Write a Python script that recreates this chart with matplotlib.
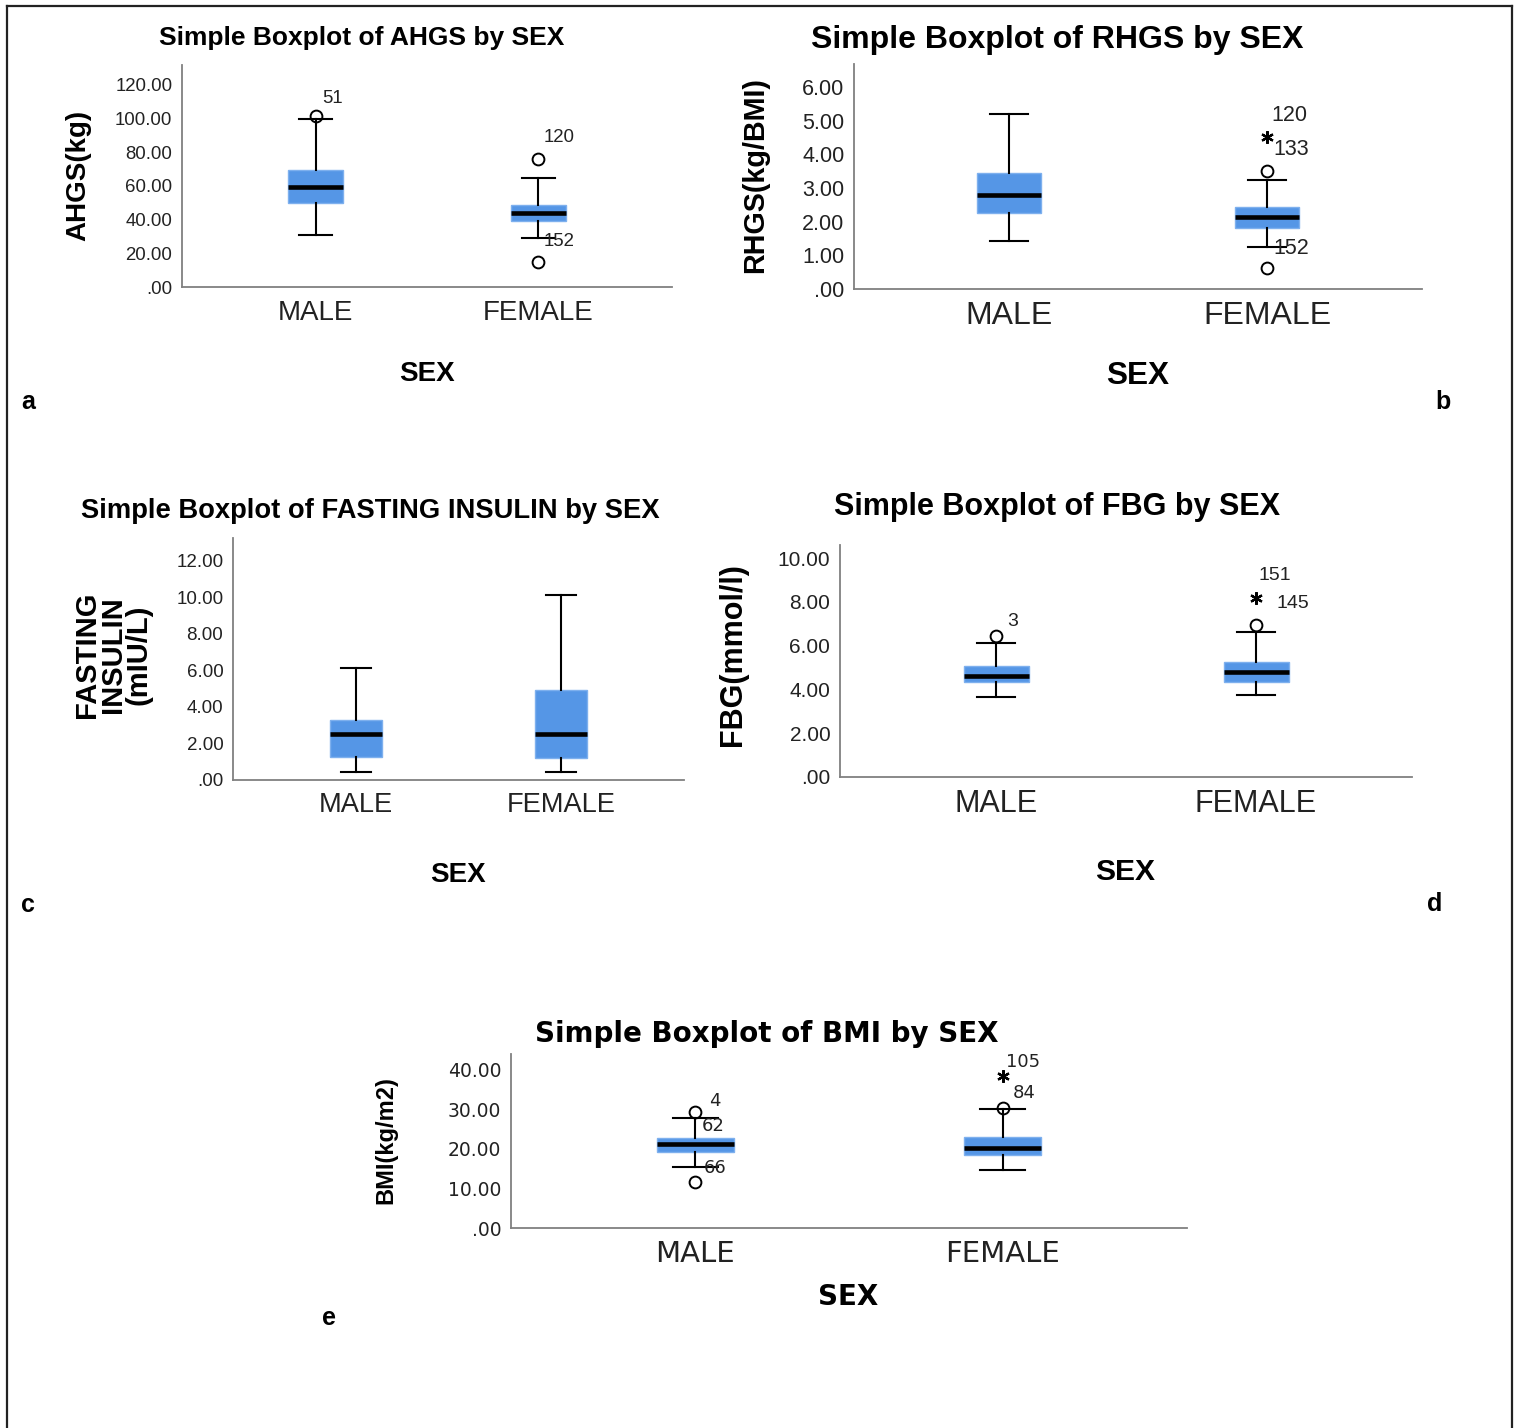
import matplotlib
matplotlib.use("Agg")
import matplotlib.pyplot as plt
from matplotlib.lines import Line2D
from matplotlib.ticker import FuncFormatter

W, H = 1519, 1428
sexes = ["MALE", "FEMALE"]

# a: AHGS (kg)
ahgs_lo = [31.0, 29.0]
ahgs_q1 = [50.0, 39.2]
ahgs_med = [59.3, 43.9]
ahgs_q3 = [69.4, 48.7]
ahgs_hi = [99.7, 64.7]
ahgs_circles = [[101.5], [76.0, 14.8]]
ahgs_stars = [[], []]
ahgs_ids = [(0, 101.5, "51"), (1, 76.0, "120"), (1, 14.8, "152")]

# b: RHGS (kg/BMI)
rhgs_lo = [1.42, 1.25]
rhgs_q1 = [2.26, 1.81]
rhgs_med = [2.79, 2.14]
rhgs_q3 = [3.44, 2.43]
rhgs_hi = [5.19, 3.23]
rhgs_circles = [[], [3.5, 0.62]]
rhgs_stars = [[], [4.51]]
rhgs_ids = [(1, 4.51, "120"), (1, 3.5, "133"), (1, 0.62, "152")]

# c: fasting insulin (mIU/L)
ins_lo = [0.44, 0.44]
ins_q1 = [1.26, 1.2]
ins_med = [2.52, 2.52]
ins_q3 = [3.29, 4.93]
ins_hi = [6.14, 10.14]
ins_circles = [[], []]
ins_stars = [[], []]
ins_ids = []

# d: FBG (mmol/l)
fbg_lo = [3.65, 3.74]
fbg_q1 = [4.34, 4.34]
fbg_med = [4.61, 4.79]
fbg_q3 = [5.07, 5.25]
fbg_hi = [6.12, 6.62]
fbg_circles = [[6.44], [6.94]]
fbg_stars = [[], [8.2]]
fbg_ids = [(0, 6.44, "3"), (1, 8.2, "151"), (1, 6.94, "145")]

# e: BMI (kg/m2)
bmi_lo = [15.4, 14.7]
bmi_q1 = [19.2, 18.5]
bmi_med = [21.3, 20.3]
bmi_q3 = [22.8, 23.0]
bmi_hi = [27.8, 30.1]
bmi_circles = [[29.4, 11.6], [30.4]]
bmi_stars = [[], [38.5]]
bmi_ids = [(0, 29.4, "4"), (0, 29.4, "62"), (0, 11.6, "66"),
           (1, 38.5, "105"), (1, 30.4, "84")]

BLUE = "#5596e6"
NARROW = ["Liberation Sans", "DejaVu Sans"]
WIDE = ["DejaVu Sans"]


def fx(x):
    return x / W


def fy(y):
    return 1 - y / H


def fmt(v, pos):
    return ".00" if abs(v) < 1e-9 else "%.2f" % v


def panel(box, ymax, yticks, lo, q1, med, q3, hi, circles, stars, ids, lay):
    l, t, r, b = box
    ax = fig.add_axes([fx(l), fy(b), (r - l) / W, (b - t) / H])
    stats = []
    for i in range(2):
        stats.append(dict(whislo=lo[i], q1=q1[i], med=med[i], q3=q3[i],
                          whishi=hi[i], fliers=circles[i]))
    ax.bxp(stats, positions=[1, 2], widths=0.25, capwidths=0.145,
           patch_artist=True, manage_ticks=False,
           boxprops=dict(facecolor=BLUE, edgecolor="#7eb0ee", linewidth=1),
           medianprops=dict(color="black", linewidth=3.3, solid_capstyle="butt"),
           whiskerprops=dict(color="black", linewidth=1.5),
           capprops=dict(color="black", linewidth=1.5),
           flierprops=dict(marker="o", markersize=8.5, markerfacecolor="none",
                           markeredgecolor="black", markeredgewidth=1.4))
    for i in range(2):
        if stars[i]:
            ax.plot([i + 1] * len(stars[i]), stars[i], linestyle="none",
                    marker=(6, 2, 0), markersize=9, color="black",
                    markeredgewidth=1.6)
    for (g, v, txt), (dx, dy) in zip(ids, lay["id_off"]):
        ax.annotate(txt, (g + 1, v), xytext=(dx, -dy), textcoords="offset pixels",
                    ha="left", va="center", fontsize=lay["id_size"],
                    family=lay["fam"], color="#222222", annotation_clip=False)
    ax.set_xlim(0.4, 2.6)
    ax.set_ylim(0, ymax)
    ax.set_yticks(yticks)
    ax.yaxis.set_major_formatter(FuncFormatter(fmt))
    ax.set_xticks([1, 2])
    ax.set_xticklabels(sexes, fontsize=lay["cat_size"], family=lay["fam"],
                       color="#222222")
    for lab in ax.get_yticklabels():
        lab.set_fontsize(lay["tick_size"])
        lab.set_family(lay["fam"])
        lab.set_color("#222222")
    ax.tick_params(length=0)
    ax.tick_params(axis="y", pad=7)
    ax.tick_params(axis="x", pad=9)
    for s in ["top", "right"]:
        ax.spines[s].set_visible(False)
    for s in ["left", "bottom"]:
        ax.spines[s].set_color("#808080")
        ax.spines[s].set_linewidth(1.3)
    ax.patch.set_alpha(0)

    tx, ty = lay["title_xy"]
    fig.text(fx(tx), fy(ty), lay["title"], ha="center", va="center",
             fontsize=lay["title_size"], fontweight="bold", family=lay["fam"])
    yx, yy = lay["ylabel_xy"]
    fig.text(fx(yx), fy(yy), lay["ylabel"], ha="center", va="center",
             rotation=90, fontsize=lay["ylabel_size"], fontweight="bold",
             family=NARROW, linespacing=0.9)
    sx, sy = lay["xlabel_xy"]
    fig.text(fx(sx), fy(sy), "SEX", ha="center", va="center",
             fontsize=lay["xlabel_size"], fontweight="bold", family=lay["fam"])
    lx, ly = lay["letter_xy"]
    fig.text(fx(lx), fy(ly), lay["letter"], ha="center", va="center",
             fontsize=18, fontweight="bold", family=NARROW)


fig = plt.figure(figsize=(W / 100, H / 100), dpi=100)

# outer frame
for xs, ys in [((7, 7), (6, H)), ((7, 1512), (6, 6)), ((1512, 1512), (6, H))]:
    fig.add_artist(Line2D([fx(x) for x in xs], [fy(y) for y in ys],
                          color="#222222", linewidth=1.6))

panel((182, 65, 672, 287), 131.8, [0, 20, 40, 60, 80, 100, 120],
      ahgs_lo, ahgs_q1, ahgs_med, ahgs_q3, ahgs_hi, ahgs_circles, ahgs_stars,
      ahgs_ids,
      dict(fam=NARROW, title="Simple Boxplot of AHGS by SEX", title_xy=(362, 38),
           title_size=19, ylabel="AHGS(kg)", ylabel_xy=(78, 175), ylabel_size=20,
           xlabel_xy=(427, 374), xlabel_size=20, tick_size=13.4, cat_size=20,
           id_size=13.4, letter="a", letter_xy=(28, 402),
           id_off=[(7, -18), (5, -21), (5, -21)]))

panel((854, 64, 1422, 289), 6.68, [0, 1, 2, 3, 4, 5, 6],
      rhgs_lo, rhgs_q1, rhgs_med, rhgs_q3, rhgs_hi, rhgs_circles, rhgs_stars,
      rhgs_ids,
      dict(fam=NARROW, title="Simple Boxplot of RHGS by SEX", title_xy=(1057, 40),
           title_size=23, ylabel="RHGS(kg/BMI)", ylabel_xy=(755, 175),
           ylabel_size=20.7, xlabel_xy=(1138, 376), xlabel_size=22.7,
           tick_size=15.5, cat_size=23, id_size=15.5, letter="b",
           letter_xy=(1443, 402), id_off=[(4, -22), (6, -22), (6, -20)]))

panel((233, 538, 684, 780), 13.26, [0, 2, 4, 6, 8, 10, 12],
      ins_lo, ins_q1, ins_med, ins_q3, ins_hi, ins_circles, ins_stars, ins_ids,
      dict(fam=NARROW, title="Simple Boxplot of FASTING INSULIN by SEX",
           title_xy=(370, 511), title_size=19.7,
           ylabel="FASTING\nINSULIN\n(mIU/L)", ylabel_xy=(113, 655),
           ylabel_size=21, xlabel_xy=(458, 875), xlabel_size=20,
           tick_size=13.5, cat_size=19.6, id_size=13.5, letter="c",
           letter_xy=(28, 905), id_off=[]))

panel((840, 545, 1412, 777), 10.6, [0, 2, 4, 6, 8, 10],
      fbg_lo, fbg_q1, fbg_med, fbg_q3, fbg_hi, fbg_circles, fbg_stars, fbg_ids,
      dict(fam=NARROW, title="Simple Boxplot of FBG by SEX", title_xy=(1057, 507),
           title_size=22, ylabel="FBG(mmol/l)", ylabel_xy=(733, 655),
           ylabel_size=22, xlabel_xy=(1125, 872), xlabel_size=21.6,
           tick_size=15, cat_size=22, id_size=14, letter="d",
           letter_xy=(1435, 904), id_off=[(11, -15), (3, -22), (20, -22)]))

panel((511, 1054, 1187, 1228), 44, [0, 10, 20, 30, 40],
      bmi_lo, bmi_q1, bmi_med, bmi_q3, bmi_hi, bmi_circles, bmi_stars, bmi_ids,
      dict(fam=WIDE, title="Simple Boxplot of BMI by SEX", title_xy=(767, 1034),
           title_size=20, ylabel="BMI(kg/m2)", ylabel_xy=(386, 1140),
           ylabel_size=17, xlabel_xy=(848, 1297), xlabel_size=20,
           tick_size=13.5, cat_size=21, id_size=13, letter="e",
           letter_xy=(329, 1318),
           id_off=[(14, -11), (6, 14), (8, -14), (3, -14), (10, -15)]))

fig.savefig("out.png", dpi=100)
